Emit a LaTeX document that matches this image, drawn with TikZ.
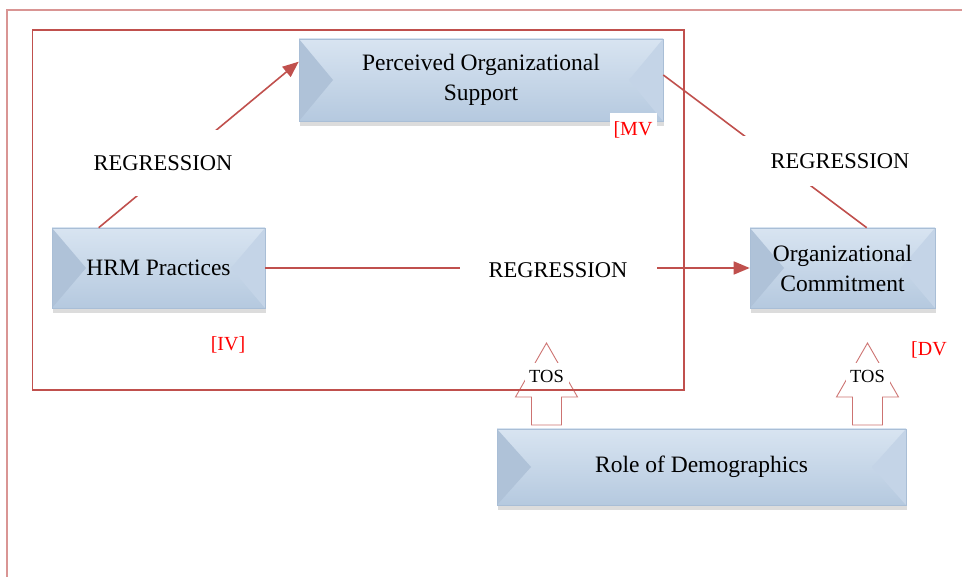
\documentclass[tikz,border=0pt]{standalone}
\usepackage{fontspec}
\setmainfont{Liberation Serif}
\usetikzlibrary{arrows.meta}
\usetikzlibrary{shadows}

\definecolor{linkred}{HTML}{C0504D}
\definecolor{framered}{HTML}{D99594}
\definecolor{tagred}{HTML}{FF0000}
\definecolor{bevtop}{HTML}{D8E4F1}
\definecolor{bevbot}{HTML}{B5C9DF}
\definecolor{bevleft}{HTML}{AFC2D8}
\definecolor{bevright}{HTML}{C4D4E7}
\definecolor{bevedge}{HTML}{A9BED6}

\begin{document}
\begin{tikzpicture}[x=1pt,y=-1pt]
  \useasboundingbox (0,0) rectangle (962,577);
  \newcommand{\bevw}{34pt}
  \tikzstyle{bevelbox}=[rectangle,draw=bevedge,line width=0.6pt,
    top color=bevtop,bottom color=bevbot,align=center,
    font=\fontsize{23.5}{30}\selectfont,
    drop shadow={shadow xshift=1pt,shadow yshift=-5pt,opacity=0.25,fill=black!55},
    path picture={
      \fill[bevleft] (path picture bounding box.north west) -- ([xshift=\bevw]path picture bounding box.west) -- (path picture bounding box.south west) -- cycle;
      \fill[bevright] (path picture bounding box.north east) -- ([xshift=-\bevw]path picture bounding box.east) -- (path picture bounding box.south east) -- cycle;
    }]

%% the four variables
  \node[bevelbox,minimum width=364pt,minimum height=82pt] (POS) at (481,80)    {Perceived Organizational\\Support};
  \node[bevelbox,minimum width=213pt,minimum height=80pt] (HRM) at (158.5,268) {HRM Practices};
  \node[bevelbox,minimum width=185pt,minimum height=80pt] (OC)  at (842.5,268) {Organizational\\Commitment};
  \node[bevelbox,minimum width=409pt,minimum height=76pt] (RD)  at (701.5,467) {Role of Demographics};

%% variable tags
  \tikzstyle{tag}=[text=tagred,font=\fontsize{20}{24}\selectfont,inner sep=1pt]
  \node[tag,fill=white,minimum width=47pt,minimum height=34pt] (MV) at (633,130) {[MV};
  \node[tag] (IV) at (228,345) {[IV]};
  \node[tag] (DV) at (929,350) {[DV};

%% regression links
  \tikzstyle{link}=[draw=linkred,line width=1.6pt,-{Triangle[length=16pt,width=13pt]}]
  \draw[link] ([xshift=47pt]HRM.north west) -- ([yshift=-23pt]POS.north west);
  \draw[link,-] ([yshift=5pt]POS.east) -- ([xshift=117pt]OC.north west);
  \draw[link] (HRM.east) -- (OC.west);

  \tikzstyle{reglabel}=[fill=white,inner sep=0pt,font=\fontsize{22.5}{26}\selectfont]
  \node[reglabel,minimum width=150pt,minimum height=66pt] (regA) at (163,163) {REGRESSION};
  \node[reglabel,minimum width=200pt,minimum height=50pt] (regB) at (840,161) {REGRESSION};
  \node[reglabel,minimum width=197pt,minimum height=30pt] (regC) at (558,270) {REGRESSION};

%% TOS arrows from the demographics
  \tikzstyle{tosarrow}=[draw=linkred!80,fill=white,line width=0.9pt,line join=miter]
  \tikzstyle{toslabel}=[fill=white,inner sep=0pt,minimum width=44pt,minimum height=26pt,font=\fontsize{18.5}{22}\selectfont]
  \foreach \ax/\nm in {546.5/tosA, 867.5/tosB} {
    \draw[tosarrow] (\ax-15,425) -- (\ax-15,397) -- (\ax-31,397) -- (\ax,343)
      -- (\ax+31,397) -- (\ax+15,397) -- (\ax+15,425) -- cycle;
    \node[toslabel] (\nm) at (\ax,376) {TOS};
  };

%% frames
  \draw[linkred,line width=1.2pt] (32.5,30) rectangle (684,390);
  \draw[framered,line width=2pt] (6.5,577) -- (6.5,10) -- (962,10);
\end{tikzpicture}
\end{document}
